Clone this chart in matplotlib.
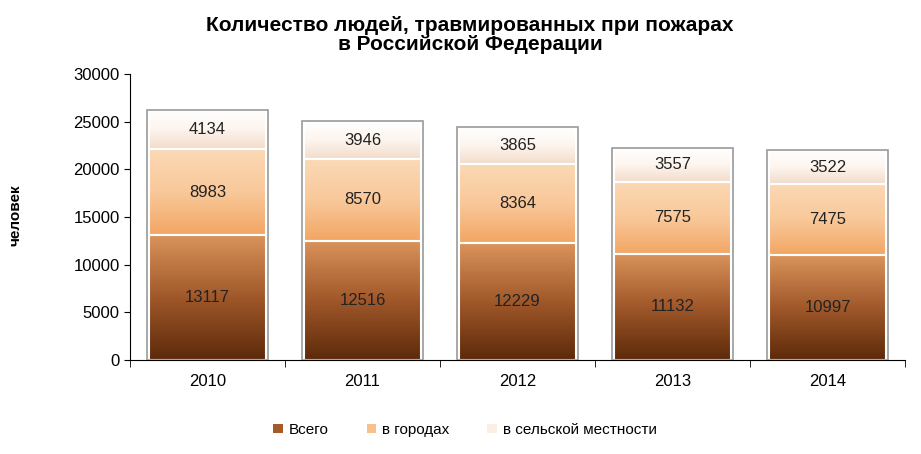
import numpy as np
import matplotlib
matplotlib.use("Agg")
import matplotlib.pyplot as plt
from matplotlib.colors import LinearSegmentedColormap

plt.rcParams["font.family"] = "Liberation Sans"

years = ["2010", "2011", "2012", "2013", "2014"]
total = [13117, 12516, 12229, 11132, 10997]
cities = [8983, 8570, 8364, 7575, 7475]
rural = [4134, 3946, 3865, 3557, 3522]
labels = ["Всего", "в городах", "в сельской местности"]

fig = plt.figure(figsize=(9.21, 4.54), dpi=100)
ax = fig.add_axes([130/921, 1-360/454, 775/921, 286/454])
x = np.arange(len(years))
w = 0.76
cmaps = [
    LinearSegmentedColormap.from_list("a", ["#5e2a0a", "#a0582a", "#d9935a"]),
    LinearSegmentedColormap.from_list("b", ["#f2a664", "#f9c89a", "#fbd9b5"]),
    LinearSegmentedColormap.from_list("c", ["#f3dccb", "#fdf5ee", "#ffffff"]),
]
flat = ["#a65a28", "#f8c08a", "#fbeee3"]
grad = np.linspace(0, 1, 64).reshape(-1, 1)
bottoms = np.zeros(len(years))
for i, vals in enumerate([total, cities, rural]):
    vals = np.array(vals)
    for xi, b, v in zip(x, bottoms, vals):
        ax.imshow(grad, cmap=cmaps[i], origin="lower", aspect="auto",
                  extent=[xi - w/2, xi + w/2, b, b + v], zorder=2)
        ax.add_patch(plt.Rectangle((xi - w/2, b), w, v, fill=False,
                                   edgecolor="white", lw=1.5, zorder=3))
        ax.text(xi, b + v/2, str(v), ha="center", va="center", fontsize=12,
                color="#222222", zorder=4)
    ax.bar(x, 0, bottom=0, color=flat[i], label=labels[i])
    bottoms += vals
for xi, t in zip(x, bottoms):
    ax.add_patch(plt.Rectangle((xi - w/2 - 0.01, 0), w + 0.02, t, fill=False,
                               edgecolor="#9a9a9a", lw=1.2, zorder=3.5))
ax.set_xlim(-0.5, 4.5)
ax.set_ylim(0, 30000)
ax.set_yticks(range(0, 30001, 5000))
ax.set_xticks(x)
ax.set_xticklabels(years)
ax.tick_params(labelsize=12, length=4)
ax.tick_params(axis="x", length=0, pad=10)
for s in ["top", "right"]:
    ax.spines[s].set_visible(False)
ax.set_xticks(np.arange(-0.5, 5, 1), minor=True)
ax.tick_params(axis="x", which="minor", length=5)
fig.text(470/921, 1-35/454, "Количество людей, травмированных при пожарах\nв Российской Федерации",
         ha="center", va="center", fontsize=15, fontweight="bold", linespacing=1.05)
fig.text(15/921, 1-215/454, "человек", rotation=90, ha="center", va="center",
         fontsize=11, fontweight="bold")
fig.legend(loc="center", bbox_to_anchor=(465/921, 1-430/454), ncol=3, frameon=False,
           fontsize=11, handlelength=0.6, handleheight=0.6, columnspacing=2.5,
           handletextpad=0.4)
fig.savefig("out.png", dpi=100)
